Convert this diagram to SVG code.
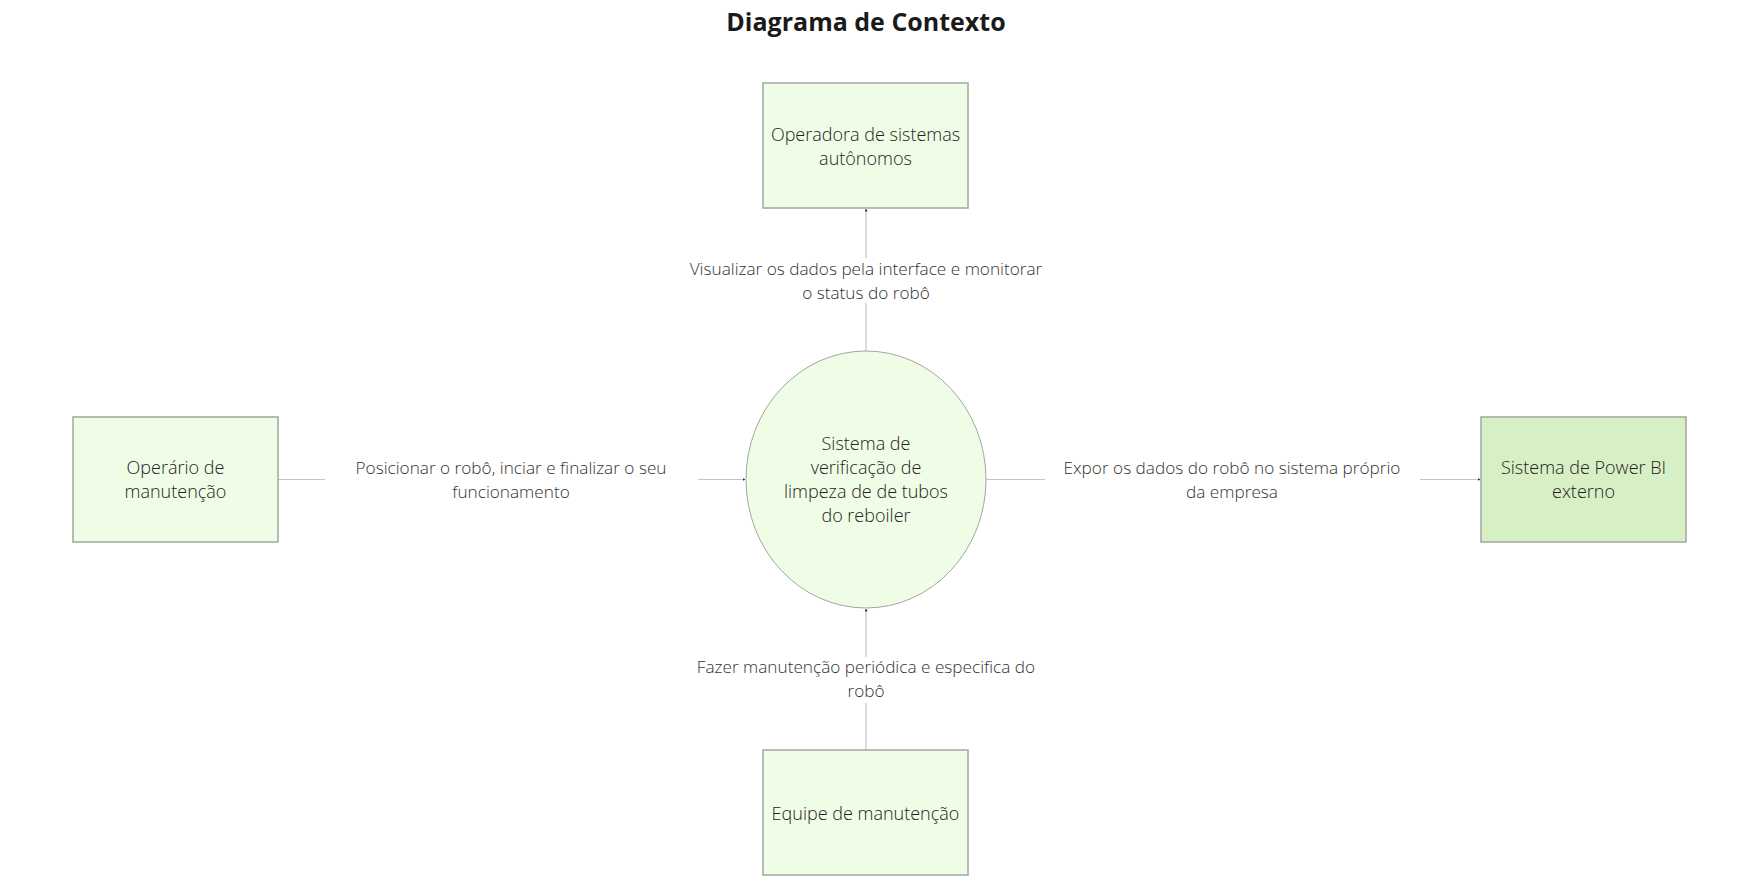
<svg xmlns="http://www.w3.org/2000/svg" width="1750" height="890" viewBox="0 0 1750 890">
<style>
.node{fill:#f0fde6;stroke:#a3a69e;stroke-width:1.5}
.node2{fill:#d7efc4;stroke:#a3a69e;stroke-width:1.5}
.t{font-family:"Open Sans","Noto Sans",sans-serif;font-size:18px;font-weight:300;fill:#222;text-anchor:middle}
.l{font-family:"Open Sans","Noto Sans",sans-serif;font-size:17.2px;font-weight:300;fill:#333;text-anchor:middle}
.c{stroke:#c4c4c4;stroke-width:1.2;fill:none}
.title{font-family:"Open Sans","Noto Sans",sans-serif;font-size:25px;font-weight:bold;fill:#1a1a1a;text-anchor:middle}
</style>
<defs>
<marker id="arr" viewBox="0 0 6 6" refX="5" refY="3" markerWidth="3" markerHeight="3" orient="auto" markerUnits="userSpaceOnUse">
<path d="M0,0 L6,3 L0,6 z" fill="#333"/>
</marker>
</defs>
<rect width="1750" height="890" fill="#ffffff"/>
<text class="title" x="866" y="31">Diagrama de Contexto</text>
<g id="connectors">
<path class="c" d="M866,351 V303"/>
<path class="c" d="M866,258 V209" marker-end="url(#arr)"/>
<path class="c" d="M278,479.5 H325"/>
<path class="c" d="M698,479.5 H745" marker-end="url(#arr)"/>
<path class="c" d="M986,479.5 H1045"/>
<path class="c" d="M1420,479.5 H1480" marker-end="url(#arr)"/>
<path class="c" d="M866,750 V703"/>
<path class="c" d="M866,657 V609" marker-end="url(#arr)"/>
<text class="l" x="866" y="275">Visualizar os dados pela interface e monitorar</text>
<text class="l" x="866" y="299">o status do robô</text>
<text class="l" x="511" y="474">Posicionar o robô, inciar e finalizar o seu</text>
<text class="l" x="511" y="498">funcionamento</text>
<text class="l" x="1232" y="474">Expor os dados do robô no sistema próprio</text>
<text class="l" x="1232" y="498">da empresa</text>
<text class="l" x="866" y="673">Fazer manutenção periódica e especifica do</text>
<text class="l" x="866" y="697">robô</text>
</g>
<g id="operadora">
<rect class="node" x="763" y="83" width="205" height="125"/>
<text class="t" x="865.5" y="141">Operadora de sistemas</text>
<text class="t" x="865.5" y="165">autônomos</text>
</g>
<g id="operario">
<rect class="node" x="73" y="417" width="205" height="125"/>
<text class="t" x="175.5" y="474">Operário de</text>
<text class="t" x="175.5" y="498">manutenção</text>
</g>
<g id="sistema">
<ellipse class="node" cx="866" cy="479.5" rx="120" ry="128.5" style="stroke-width:1"/>
<text class="t" x="866" y="450">Sistema de</text>
<text class="t" x="866" y="474">verificação de</text>
<text class="t" x="866" y="498">limpeza de de tubos</text>
<text class="t" x="866" y="522">do reboiler</text>
</g>
<g id="powerbi">
<rect class="node2" x="1481" y="417" width="205" height="125"/>
<text class="t" x="1583.5" y="474">Sistema de Power BI</text>
<text class="t" x="1583.5" y="498">externo</text>
</g>
<g id="equipe">
<rect class="node" x="763" y="750" width="205" height="125"/>
<text class="t" x="865.5" y="820">Equipe de manutenção</text>
</g>
</svg>
